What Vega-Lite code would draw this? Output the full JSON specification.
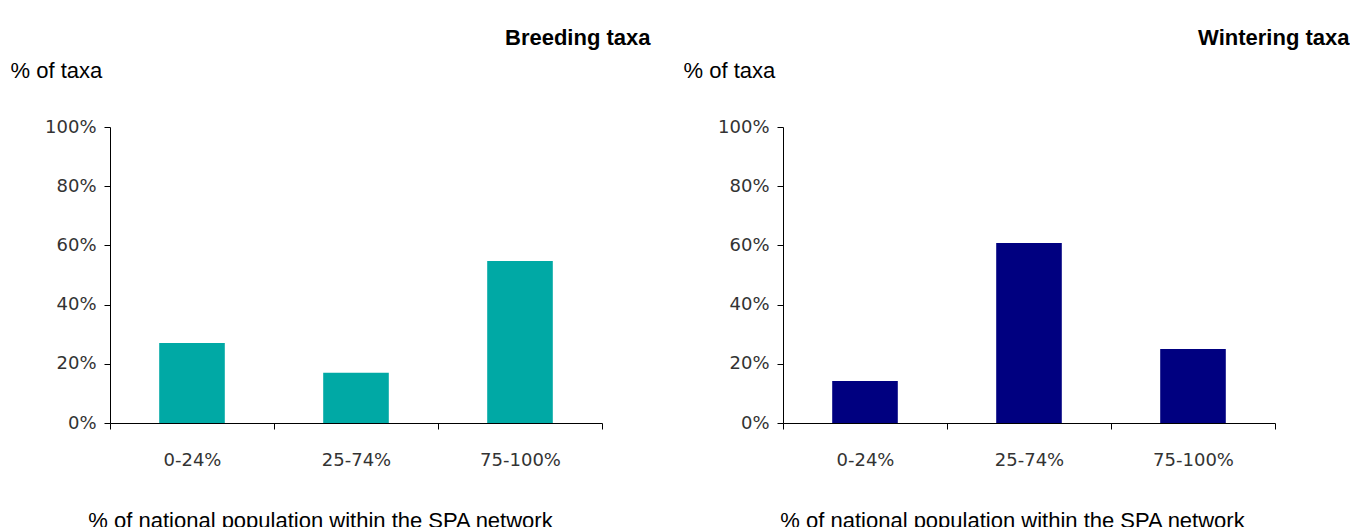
{
  "$schema": "https://vega.github.io/schema/vega-lite/v6.json",
  "padding": {"left": 10, "top": 27, "right": 0, "bottom": 0},
  "background": "white",
  "spacing": 32,
  "config": {
    "view": {"stroke": null},
    "axis": {"grid": false, "domainColor": "#000", "tickColor": "#000", "labelFont": "DejaVu Sans", "labelFontSize": 18, "labelColor": "#333", "titleFont": "Liberation Sans", "titleFontSize": 22, "titleFontWeight": "normal", "titleColor": "#000"},
    "title": {"font": "Liberation Sans", "fontSize": 22, "fontWeight": "bold", "color": "#000"}
  },
  "datasets": {
    "breeding": [
      {"band": "0-24%", "share": 0.27},
      {"band": "25-74%", "share": 0.17},
      {"band": "75-100%", "share": 0.547}
    ],
    "wintering": [
      {"band": "0-24%", "share": 0.142},
      {"band": "25-74%", "share": 0.608},
      {"band": "75-100%", "share": 0.25}
    ]
  },
  "hconcat": [
    {
      "width": 492,
      "height": 296,
      "data": {"name": "breeding"},
      "title": {"text": "Breeding taxa", "anchor": "end", "dx": 48, "dy": 3, "offset": 12},
      "mark": {"type": "bar", "color": "#00A9A5", "width": {"band": 0.4}},
      "encoding": {
        "x": {"field": "band", "type": "nominal", "sort": null, "scale": {"paddingInner": 0, "paddingOuter": 0},
          "axis": {"labelAngle": 0, "tickBand": "extent", "tickSize": 6, "labelPadding": 22, "title": "% of national population within the SPA network", "titleX": 210, "titleY": 104, "titleBaseline": "alphabetic"}},
        "y": {"field": "share", "type": "quantitative", "scale": {"domain": [0, 1]},
          "axis": {"format": "%", "values": [0, 0.2, 0.4, 0.6, 0.8, 1], "tickSize": 6, "labelPadding": 8, "title": "% of taxa", "titleAngle": 0, "titleAlign": "left", "titleX": -100, "titleY": -50, "titleBaseline": "alphabetic"}}
      }
    },
    {
      "width": 492,
      "height": 296,
      "data": {"name": "wintering"},
      "title": {"text": "Wintering taxa", "anchor": "end", "dx": 74, "dy": 3, "offset": 12},
      "mark": {"type": "bar", "color": "#000080", "width": {"band": 0.4}},
      "encoding": {
        "x": {"field": "band", "type": "nominal", "sort": null, "scale": {"paddingInner": 0, "paddingOuter": 0},
          "axis": {"labelAngle": 0, "tickBand": "extent", "tickSize": 6, "labelPadding": 22, "title": "% of national population within the SPA network", "titleX": 229, "titleY": 104, "titleBaseline": "alphabetic"}},
        "y": {"field": "share", "type": "quantitative", "scale": {"domain": [0, 1]},
          "axis": {"format": "%", "values": [0, 0.2, 0.4, 0.6, 0.8, 1], "tickSize": 6, "labelPadding": 8, "title": "% of taxa", "titleAngle": 0, "titleAlign": "left", "titleX": -100, "titleY": -50, "titleBaseline": "alphabetic"}}
      }
    }
  ]
}
